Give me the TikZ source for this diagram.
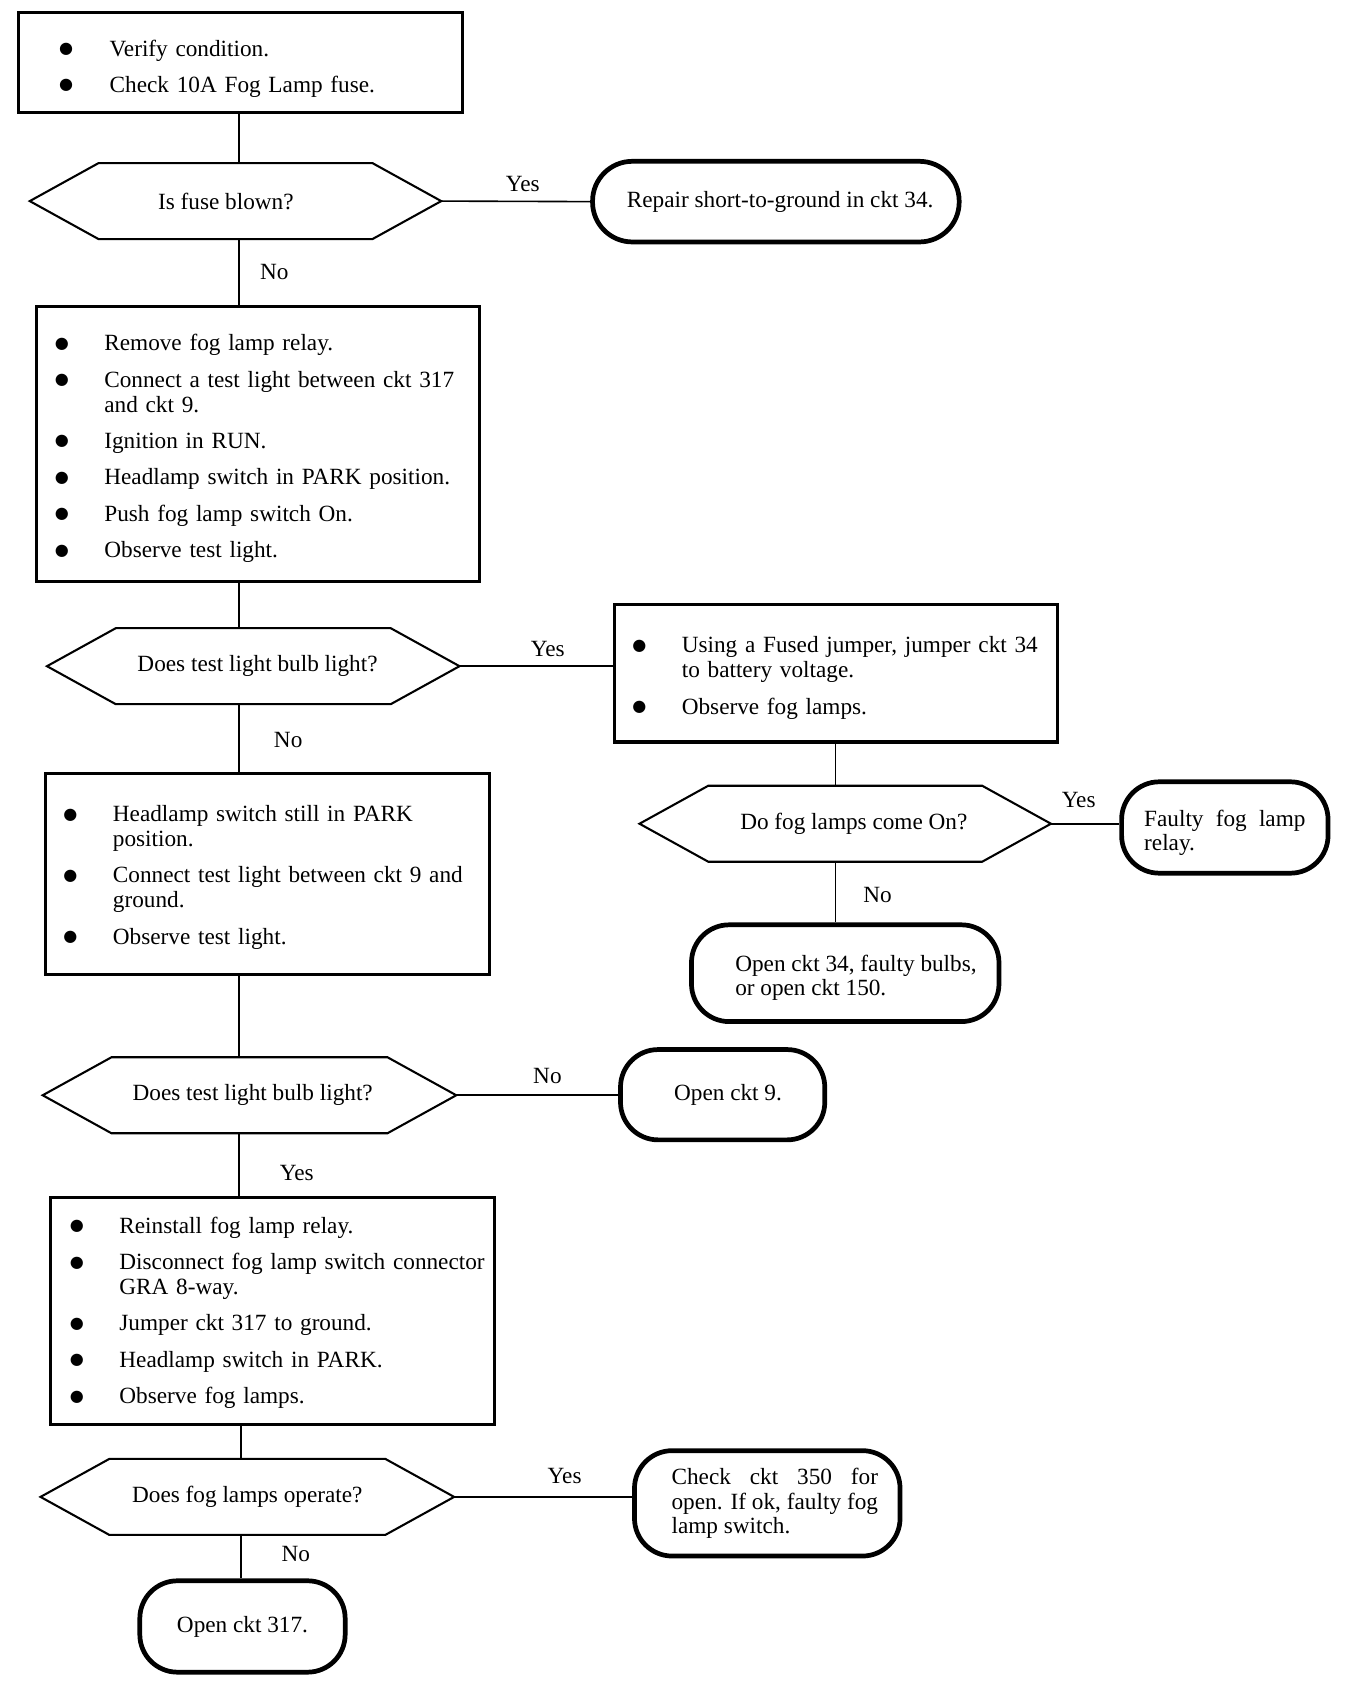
\documentclass[tikz,border=0pt]{standalone}
\usepackage{fontspec}
\setmainfont{Liberation Serif}
\newfontfamily\symf{DejaVu Sans}
\usetikzlibrary{calc}
\newlength{\unitpx}\setlength{\unitpx}{0.02cm}
\newcommand{\bb}[2]{\makebox[#2\unitpx][l]{\hspace*{#1\unitpx}\raisebox{2.5\unitpx}{\symf\fontsize{8.5}{10}\selectfont ●}}}
\newcommand{\lowr}[2]{\raisebox{-#1\unitpx}[\height][\depth]{#2}}
\newcommand{\hexa}[1]{\draw[hexline] (#1.west) -- ([xshift=1.28cm]#1.north west) -- ([xshift=-1.28cm]#1.north east) -- (#1.east) -- ([xshift=-1.28cm]#1.south east) -- ([xshift=1.28cm]#1.south west) -- cycle;}
\tikzset{
  txt/.style={font=\fontsize{12.3}{13.04}\selectfont},
  boxn/.style={txt, draw, line width=1.6pt, rectangle, inner sep=0pt, align=left},
  decn/.style={txt, rectangle, inner sep=0pt, minimum width=7.64cm, minimum height=1.4cm},
  hexline/.style={line width=1.1pt, line join=miter},
  term/.style={txt, draw, line width=2.5pt, rectangle, rounded corners=0.7cm, inner sep=0pt},
  conn/.style={line width=0.85pt},
  lab/.style={txt, inner sep=0pt}
}
\begin{document}
\begin{tikzpicture}[x=0.02cm, y=-0.02cm]
\useasboundingbox (0,0) rectangle (1250,1566);
\coordinate (sp) at (222,0);
\coordinate (sq) at (224,0);

\node[boxn, text width=8.26cm, minimum height=1.86cm] (b1) at (223.5,58.5) {\noindent\lowr{6}{\begin{tabular}{@{}l@{}l@{}}
\bb{38}{85} & Verify condition.\\[11\unitpx]
\bb{38}{85} & Check 10A Fog Lamp fuse.
\end{tabular}}};

\node[decn] (d1) at (219,187) {\hspace*{-18\unitpx}Is fuse blown?};
\hexa{d1}

\node[term, minimum width=6.82cm, minimum height=1.5cm, rounded corners=0.74cm] (rep) at (721.5,187.5) {\hspace*{8\unitpx}Repair short-to-ground in ckt 34.};

\node[boxn, text width=8.24cm, minimum height=5.12cm] (b2) at (240,413) {\noindent\lowr{5}{\begin{tabular}{@{}l@{}l@{}}
\bb{17}{63} & Remove fog lamp relay.\\[11\unitpx]
\bb{17}{63} & Connect a test light between ckt 317\\
 & and ckt 9.\\[11\unitpx]
\bb{17}{63} & Ignition in RUN.\\[11\unitpx]
\bb{17}{63} & Headlamp switch in PARK position.\\[11\unitpx]
\bb{17}{63} & Push fog lamp switch On.\\[11\unitpx]
\bb{17}{63} & Observe test light.
\end{tabular}}};

\node[decn, minimum width=7.66cm] (d2) at (235.5,619.5) {\hspace*{8\unitpx}Does test light bulb light?};
\hexa{d2}

\node[boxn, text width=8.24cm, minimum height=2.56cm] (b3) at (777,626) {\noindent\lowr{5}{\begin{tabular}{@{}l@{}l@{}}
\bb{17}{63} & Using a Fused jumper, jumper ckt 34\\
 & to battery voltage.\\[11\unitpx]
\bb{17}{63} & Observe fog lamps.
\end{tabular}}};

\node[decn] (d3) at (786,766) {\hspace*{16\unitpx}Do fog lamps come On?};
\hexa{d3}

\node[term, minimum width=3.84cm, minimum height=1.7cm, text width=3.0cm, align=justify] (fl) at (1139,769.5) {\lowr{5}{\parbox{3.0cm}{Faulty fog lamp\linebreak relay.}}};

\node[term, minimum width=5.72cm, minimum height=1.8cm, align=left] (o34) at (786,905) {\hspace*{20\unitpx}\lowr{5}{\begin{tabular}{@{}l@{}}Open ckt 34, faulty bulbs,\\or open ckt 150.\end{tabular}}};

\node[boxn, text width=8.26cm, minimum height=3.74cm] (b4) at (248.5,812.5) {\noindent\lowr{4}{\begin{tabular}{@{}l@{}l@{}}
\bb{17}{63} & Headlamp switch still in PARK\\
 & position.\\[11\unitpx]
\bb{17}{63} & Connect test light between ckt 9 and\\
 & ground.\\[11\unitpx]
\bb{17}{63} & Observe test light.
\end{tabular}}};

\node[decn, minimum width=7.68cm] (d4) at (232,1018.5) {\hspace*{6\unitpx}Does test light bulb light?};
\hexa{d4}

\node[term, minimum width=3.8cm, minimum height=1.68cm] (o9) at (672,1018) {\hspace*{10\unitpx}Open ckt 9.};

\node[boxn, text width=8.26cm, minimum height=4.22cm] (b5) at (253.5,1219.5) {\noindent\lowr{2}{\begin{tabular}{@{}l@{}l@{}}
\bb{18}{64} & Reinstall fog lamp relay.\\[11\unitpx]
\bb{18}{64} & Disconnect fog lamp switch connector\\
 & GRA 8-way.\\[11\unitpx]
\bb{18}{64} & Jumper ckt 317 to ground.\\[11\unitpx]
\bb{18}{64} & Headlamp switch in PARK.\\[11\unitpx]
\bb{18}{64} & Observe fog lamps.
\end{tabular}}};

\node[decn, minimum width=7.68cm] (d5) at (230,1392) {Does fog lamps operate?};
\hexa{d5}

\node[term, minimum width=4.94cm, minimum height=1.96cm, text width=3.84cm, align=justify] (c350) at (713.5,1398) {\hspace*{7\unitpx}\parbox{3.84cm}{Check ckt 350 for\linebreak open. If ok, faulty fog\linebreak lamp switch.}};

\node[term, minimum width=3.82cm, minimum height=1.7cm] (o317) at (225.5,1512.5) {Open ckt 317.};

% connectors
\draw[conn] (b1.south -| sp) -- (d1.north -| sp);
\draw[conn] (d1.east) -- node[lab, midway, xshift=0.13cm, yshift=0.32cm] {Yes} (rep.west);
\draw[conn] (d1.south -| sp) -- node[lab, midway, xshift=0.66cm] {No} (b2.north -| sp);
\draw[conn] (b2.south -| sp) -- (d2.north -| sp);
\draw[conn] (d2.east) -- node[lab, midway, xshift=0.22cm, yshift=0.32cm] {Yes} (d2.east -| b3.west);
\draw[conn] (d2.south -| sp) -- node[lab, midway, xshift=0.92cm, yshift=-0.04cm] {No} (b4.north -| sp);
\draw[conn] (b3.south) -- (b3.south |- d3.north);
\draw[conn] (d3.east) -- node[lab, midway, xshift=-0.12cm, yshift=0.44cm] {Yes} (d3.east -| fl.west);
\draw[conn] (d3.south -| b3.south) -- node[lab, midway, xshift=0.78cm, yshift=-0.05cm] {No} (o34.north -| b3.south);
\draw[conn] (b4.south -| sp) -- (d4.north -| sp);
\draw[conn] (d4.east) -- node[lab, midway, xshift=0.19cm, yshift=0.36cm] {No} (d4.east -| o9.west);
\draw[conn] (d4.south -| sp) -- node[lab, midway, xshift=1.08cm, yshift=-0.15cm] {Yes} (b5.north -| sp);
\draw[conn] (b5.south -| sq) -- (d5.north -| sq);
\draw[conn] (d5.east) -- node[lab, midway, xshift=0.4cm, yshift=0.38cm] {Yes} (d5.east -| c350.west);
\draw[conn] (d5.south -| sq) -- node[lab, midway, xshift=1.02cm, yshift=0.05cm] {No} (o317.north -| sq);
\end{tikzpicture}
\end{document}
